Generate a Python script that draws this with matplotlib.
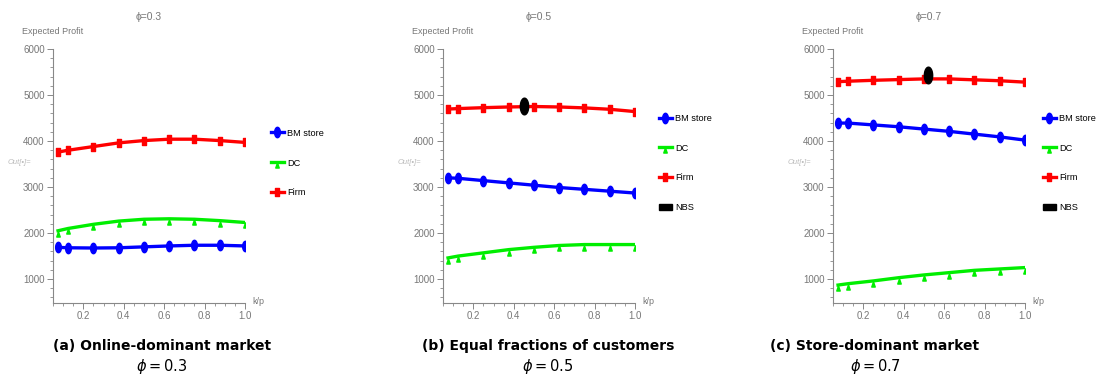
import matplotlib
matplotlib.use("Agg")
import matplotlib.pyplot as plt
from matplotlib.path import Path
from matplotlib.lines import Line2D
from matplotlib.patches import Patch
from matplotlib.ticker import MultipleLocator
from matplotlib import font_manager
import numpy as np

# ---------------- data ----------------
k_over_p = [0.075, 0.125, 0.25, 0.375, 0.5, 0.625, 0.75, 0.875, 1.0]
phis = ["0.3", "0.5", "0.7"]

bm_store = [
    [1690, 1680, 1675, 1680, 1700, 1720, 1735, 1735, 1720],
    [3200, 3190, 3140, 3090, 3040, 2990, 2950, 2910, 2870],
    [4390, 4390, 4350, 4310, 4260, 4210, 4150, 4090, 4020],
]
dc = [
    [2050, 2100, 2190, 2260, 2300, 2310, 2300, 2270, 2230],
    [1460, 1500, 1570, 1640, 1690, 1730, 1750, 1750, 1750],
    [870, 900, 960, 1030, 1090, 1140, 1190, 1220, 1250],
]
firm = [
    [3760, 3800, 3880, 3960, 4010, 4040, 4040, 4010, 3970],
    [4695, 4705, 4725, 4740, 4750, 4740, 4720, 4690, 4640],
    [5290, 5300, 5320, 5335, 5350, 5350, 5330, 5310, 5280],
]
nbs_x = [None, 0.45, 0.52]
nbs_y = [None, 4770, 5430]

captions = ["(a) Online-dominant market", "(b) Equal fractions of customers",
            "(c) Store-dominant market"]
caption_math = [r"$\phi = 0.3$", r"$\phi = 0.5$", r"$\phi = 0.7$"]


# ---------------- style ----------------
def pick_font(cands):
    for c in cands:
        try:
            font_manager.findfont(font_manager.FontProperties(family=c),
                                  fallback_to_default=False)
            return c
        except Exception:
            pass
    return "DejaVu Sans"


NARROW = pick_font(["Liberation Sans Narrow", "DejaVu Sans Condensed",
                    "Liberation Sans"])
NARROW_LIST = [NARROW, "DejaVu Sans"]
BLUE, GREEN, RED = "#0000ff", "#00ee00", "#ff0000"
GRAY = "#888888"

t = np.linspace(0, 2 * np.pi, 40)
ell = Path(np.column_stack([0.55 * np.cos(t), np.sin(t)]), closed=True)
tri = Path([(-0.5, -1.6), (0.5, -1.6), (0.0, -0.1), (-0.5, -1.6)], closed=True)
rect = Path([(-0.4, -1), (0.4, -1), (0.4, 1), (-0.4, 1), (-0.4, -1)], closed=True)
nbs_m = Path(np.column_stack([0.5 * np.cos(t), np.sin(t)]), closed=True)

W, H = 1099, 381
fig = plt.figure(figsize=(W / 100, H / 100), dpi=100)

lefts = [53, 443, 833]
ax_w = 192
ax_bottom_px = 303
ax_top_px = 49
legend_x = [271, 659, 1043]
leg_size = 8.0 if NARROW == "Liberation Sans Narrow" else 6.6

for i in range(3):
    ax = fig.add_axes([lefts[i] / W, 1 - ax_bottom_px / H, ax_w / W,
                       (ax_bottom_px - ax_top_px) / H])
    ax.plot(k_over_p, bm_store[i], color=BLUE, lw=2.4, marker=ell, ms=7.5,
            mec=BLUE, mfc=BLUE, zorder=3)
    ax.plot(k_over_p, dc[i], color=GREEN, lw=2.4, marker=tri, ms=8,
            mec=GREEN, mfc=GREEN, zorder=3)
    ax.plot(k_over_p, firm[i], color=RED, lw=2.4, marker=rect, ms=6,
            mec=RED, mfc=RED, zorder=3)
    if nbs_x[i] is not None:
        ax.plot([nbs_x[i]], [nbs_y[i]], marker=nbs_m, ms=12, color="black",
                ls="none", zorder=4)

    ax.set_xlim(0.05, 1.0)
    ax.set_ylim(480, 6000)
    ax.xaxis.set_minor_locator(MultipleLocator(0.05))
    ax.yaxis.set_minor_locator(MultipleLocator(200))
    ax.set_yticks([1000, 2000, 3000, 4000, 5000, 6000])
    ax.set_xticks([0.2, 0.4, 0.6, 0.8, 1.0])
    ax.set_xticklabels(["0.2", "0.4", "0.6", "0.8", "1.0"])
    for s in ["top", "right"]:
        ax.spines[s].set_visible(False)
    for s in ["left", "bottom"]:
        ax.spines[s].set_color(GRAY)
        ax.spines[s].set_linewidth(0.8)
    ax.tick_params(which="major", length=4, width=0.7, color=GRAY,
                   labelsize=7, labelcolor="#777777", pad=2)
    ax.tick_params(which="minor", length=2, width=0.6, color=GRAY)
    for lab in ax.get_xticklabels() + ax.get_yticklabels():
        lab.set_family(NARROW_LIST)
    ax.patch.set_alpha(0)

    cx = (lefts[i] + ax_w / 2) / W
    fig.text(cx, 1 - 17 / H, "ϕ=" + phis[i], ha="center", va="center",
             fontsize=7.5, color="#777777", family=NARROW_LIST)
    fig.text(lefts[i] / W, 1 - 32 / H, "Expected Profit", ha="center",
             va="center", fontsize=6.5, color="#777777", family=NARROW_LIST)
    fig.text((lefts[i] - 34) / W, 1 - 163 / H, "Out[•]=", ha="center",
             va="center", fontsize=5.5, color="#bbbbbb", family=NARROW_LIST,
             style="italic")
    fig.text((lefts[i] + ax_w + 13) / W, 1 - 301 / H, "k/p", ha="center",
             va="center", fontsize=6.5, color="#777777", family=NARROW_LIST)

    handles = [
        Line2D([], [], color=BLUE, lw=2.4, marker=ell, ms=7.5),
        Line2D([], [], color=GREEN, lw=2.4, marker=tri, ms=8),
        Line2D([], [], color=RED, lw=2.4, marker=rect, ms=6),
    ]
    labels = ["BM store", "DC", "Firm"]
    if nbs_x[i] is not None:
        handles.append(Patch(facecolor="black", edgecolor="black"))
        labels.append("NBS")
    fig.legend(handles, labels, loc="center left",
               bbox_to_anchor=(legend_x[i] / W, 1 - 163 / H),
               frameon=False, handlelength=1.4, handletextpad=0.35,
               labelspacing=(30 / (leg_size * 100 / 72)) - 1.0,
               borderpad=0, borderaxespad=0,
               prop={"family": NARROW_LIST, "size": leg_size})

    cap_cx = [162, 548, 875][i] / W
    fig.text(cap_cx, 1 - 346 / H, captions[i], ha="center", va="center",
             fontsize=10, fontweight="bold", family="DejaVu Sans")
    fig.text(cap_cx, 1 - 367 / H, caption_math[i], ha="center",
             va="center", fontsize=10.5)

fig.savefig("out.png", dpi=100)
